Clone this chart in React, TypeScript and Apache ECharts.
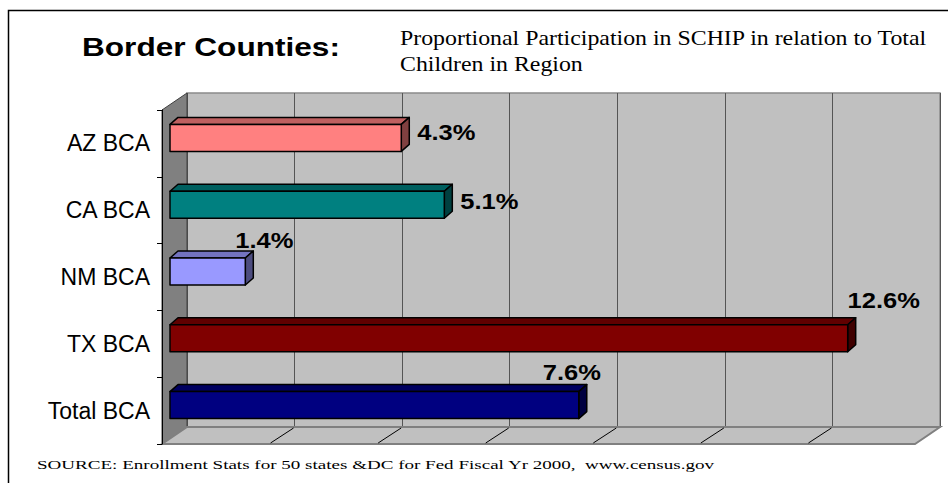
import React, { useEffect, useRef } from "react";
import * as echarts from "echarts";

// ---- data ----
const categories = ["AZ BCA", "CA BCA", "NM BCA", "TX BCA", "Total BCA"];
const values = [4.3, 5.1, 1.4, 12.6, 7.6];
const valueLabels = ["4.3%", "5.1%", "1.4%", "12.6%", "7.6%"];
const barColors = ["#FF8080", "#008080", "#9999FF", "#800000", "#000080"];
const axisMin = 0;
const axisMax = 14;
const axisInterval = 2;
const titleText = "Border Counties:";
const subtitleLines = [
  "Proportional Participation in SCHIP in relation to Total",
  "Children in Region",
];
const sourceText =
  "SOURCE: Enrollment Stats for 50 states &DC for Fed Fiscal Yr 2000,  www.census.gov";

// ---- layout / style ----
const FRONT = { left: 162, top: 110, width: 753, height: 334 };
const DEPTH = { dx: 25, dy: -17 };
const BAR_SHIFT = { dx: 8, dy: -5.5 };
const BAR_DEPTH = { dx: 8, dy: -7 };
const BAR_HALF = 13.5;
// label centre offsets relative to the bar's front top-right corner
const labelDx = [45, 45, 19, 36, -7];
const labelDy = [8, 10, -18, -25, -19];
const STRETCH = 1.16;
const ARIAL = "Arial, 'Liberation Sans', Helvetica, sans-serif";
const TIMES = "'Times New Roman', 'Liberation Serif', Times, serif";

function shade(hex: string, f: number) {
  const n = parseInt(hex.slice(1), 16);
  const r = Math.round(((n >> 16) & 255) * f);
  const g = Math.round(((n >> 8) & 255) * f);
  const b = Math.round((n & 255) * f);
  return `rgb(${r},${g},${b})`;
}

function measure(text: string, font: string) {
  const ctx = document.createElement("canvas").getContext("2d");
  if (!ctx) return 1;
  ctx.font = font;
  return ctx.measureText(text).width || 1;
}

export default function App() {
  const ref = useRef<HTMLDivElement>(null);

  useEffect(() => {
    if (!ref.current) return;
    const chart = echarts.init(ref.current, undefined, { renderer: "svg" });

    const titleFont = `bold 26px ${ARIAL}`;
    const subFont = `20px ${TIMES}`;
    const srcFont = `13px ${TIMES}`;
    const titleScale = 258 / measure(titleText, titleFont);
    const subScale = 528 / measure(subtitleLines[0], subFont);
    const srcScale = 678 / measure(sourceText, srcFont);

    const wallsRender = (params: any, api: any) => {
      const cs = params.coordSys;
      const x0 = cs.x;
      const x1 = cs.x + cs.width;
      const y0 = cs.y;
      const y1 = cs.y + cs.height;
      const children: any[] = [];
      children.push({
        type: "polygon",
        shape: {
          points: [
            [x0, y0],
            [x0 + DEPTH.dx, y0 + DEPTH.dy],
            [x0 + DEPTH.dx, y1 + DEPTH.dy],
            [x0, y1],
          ],
        },
        style: { fill: "#808080", stroke: "#404040", lineWidth: 1 },
      });
      children.push({
        type: "polygon",
        shape: {
          points: [
            [x0, y1],
            [x0 + DEPTH.dx, y1 + DEPTH.dy],
            [x1 + DEPTH.dx, y1 + DEPTH.dy],
            [x1, y1],
          ],
        },
        style: { fill: "#C0C0C0", stroke: "#808080", lineWidth: 2 },
      });
      for (let t = axisMin + axisInterval; t < axisMax; t += axisInterval) {
        const x = api.coord([t, 0])[0];
        children.push({
          type: "line",
          shape: { x1: x + 1, y1: y1 - 1, x2: x + DEPTH.dx - 1, y2: y1 + DEPTH.dy + 1 },
          style: { stroke: "#000", lineWidth: 1 },
        });
      }
      return { type: "group", children };
    };

    const barsRender = (params: any, api: any) => {
      const i = params.dataIndex;
      const v = api.value(0);
      const c = api.value(1);
      const s = api.coord([axisMin, c]);
      const e = api.coord([v, c]);
      const x0 = s[0] + BAR_SHIFT.dx;
      const x1 = e[0] + BAR_SHIFT.dx;
      const yc = s[1] + BAR_SHIFT.dy;
      const yt = yc - BAR_HALF;
      const yb = yc + BAR_HALF;
      const col = barColors[i];
      const edge = { stroke: "#000", lineWidth: 1.5, lineJoin: "round" };
      return {
        type: "group",
        children: [
          {
            type: "polygon",
            shape: {
              points: [
                [x0, yt],
                [x0 + BAR_DEPTH.dx, yt + BAR_DEPTH.dy],
                [x1 + BAR_DEPTH.dx, yt + BAR_DEPTH.dy],
                [x1, yt],
              ],
            },
            style: { fill: shade(col, 0.75), ...edge },
          },
          {
            type: "polygon",
            shape: {
              points: [
                [x1, yt],
                [x1 + BAR_DEPTH.dx, yt + BAR_DEPTH.dy],
                [x1 + BAR_DEPTH.dx, yb + BAR_DEPTH.dy],
                [x1, yb],
              ],
            },
            style: { fill: shade(col, 0.5), ...edge },
          },
          {
            type: "rect",
            shape: { x: x0, y: yt, width: x1 - x0, height: yb - yt },
            style: { fill: col, ...edge },
          },
          {
            type: "text",
            x: x1 + labelDx[i],
            y: yt + labelDy[i],
            scaleX: STRETCH,
            style: {
              text: valueLabels[i],
              fill: "#000",
              font: `bold 22px ${ARIAL}`,
              align: "center",
              verticalAlign: "middle",
            },
          },
        ],
      };
    };

    const option: any = {
      animation: false,
      backgroundColor: "#ffffff",
      grid: [
        { ...FRONT, containLabel: false },
        {
          left: FRONT.left + DEPTH.dx,
          top: FRONT.top + DEPTH.dy,
          width: FRONT.width,
          height: FRONT.height,
          show: true,
          backgroundColor: "#C0C0C0",
          borderColor: "#8a8a8a",
          borderWidth: 1.5,
        },
      ],
      xAxis: [
        {
          gridIndex: 0,
          type: "value",
          min: axisMin,
          max: axisMax,
          interval: axisInterval,
          axisLine: { show: false },
          axisTick: { show: false },
          axisLabel: { show: false },
          splitLine: { show: false },
        },
        {
          gridIndex: 1,
          type: "value",
          min: axisMin,
          max: axisMax,
          interval: axisInterval,
          axisLine: { show: false },
          axisTick: { show: false },
          axisLabel: { show: false },
          splitLine: { show: true, lineStyle: { color: "#555555", width: 1 } },
        },
      ],
      yAxis: [
        {
          gridIndex: 0,
          type: "category",
          data: categories,
          inverse: true,
          z: 5,
          axisLine: { show: true, lineStyle: { color: "#000", width: 1 } },
          axisTick: { show: true, length: 5, lineStyle: { color: "#000" } },
          axisLabel: {
            show: true,
            color: "#000",
            fontSize: 23,
            fontFamily: ARIAL,
            margin: 12,
          },
          splitLine: { show: false },
        },
        {
          gridIndex: 1,
          type: "category",
          data: categories,
          inverse: true,
          show: false,
        },
      ],
      graphic: [
        {
          type: "rect",
          shape: { x: 8.5, y: 10.5, width: 1200, height: 1000 },
          style: { fill: "none", stroke: "#000", lineWidth: 1.5 },
          z: 100,
        },
        {
          type: "text",
          x: 82,
          y: 47.5,
          scaleX: titleScale,
          style: {
            text: titleText,
            fill: "#000",
            font: titleFont,
            align: "left",
            verticalAlign: "middle",
          },
        },
        {
          type: "text",
          x: 400,
          y: 38.5,
          scaleX: subScale,
          style: {
            text: subtitleLines[0],
            fill: "#000",
            font: subFont,
            align: "left",
            verticalAlign: "middle",
          },
        },
        {
          type: "text",
          x: 400,
          y: 64.5,
          scaleX: subScale,
          style: {
            text: subtitleLines[1],
            fill: "#000",
            font: subFont,
            align: "left",
            verticalAlign: "middle",
          },
        },
        {
          type: "text",
          x: 37,
          y: 465,
          scaleX: srcScale,
          style: {
            text: sourceText,
            fill: "#000",
            font: srcFont,
            align: "left",
            verticalAlign: "middle",
          },
        },
      ],
      series: [
        {
          type: "custom",
          name: "walls",
          xAxisIndex: 0,
          yAxisIndex: 0,
          z: 1,
          silent: true,
          renderItem: wallsRender,
          data: [[0, 0]],
        },
        {
          type: "custom",
          name: "bars",
          xAxisIndex: 0,
          yAxisIndex: 0,
          z: 3,
          renderItem: barsRender,
          encode: { x: 0, y: 1 },
          data: values.map((v, i) => [v, i]),
        },
      ],
    };

    chart.setOption(option);
    return () => chart.dispose();
  }, []);

  return (
    <div
      ref={ref}
      style={{ position: "fixed", left: 0, top: 0, width: 948, height: 483, background: "#fff" }}
    />
  );
}
